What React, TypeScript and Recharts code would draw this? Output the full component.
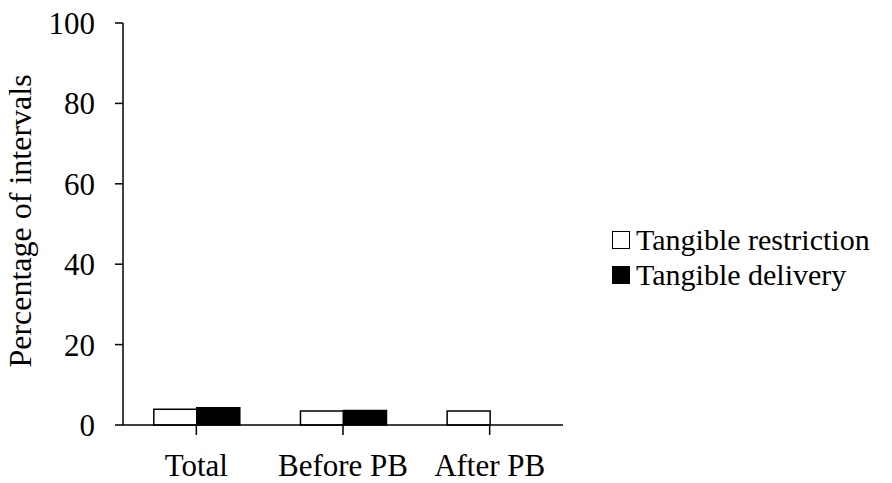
import React from 'react';
import { BarChart, Bar, XAxis, YAxis, Legend, Label } from 'recharts';

const categories = ['Total', 'Before PB', 'After PB'];
const restriction = [3.9, 3.5, 3.5];
const delivery = [4.3, 3.6, 0];
const yTicks = [0, 20, 40, 60, 80, 100];

const data = categories.map((name, i) => ({
  name,
  restriction: restriction[i],
  delivery: delivery[i],
}));

const FONT = "'Liberation Serif', Tinos, 'Times New Roman', 'DejaVu Serif', serif";

const legendItems = [
  { label: 'Tangible restriction', fill: '#ffffff' },
  { label: 'Tangible delivery', fill: '#000000' },
];

function LegendContent() {
  return (
    <div style={{ fontFamily: FONT, fontSize: 30, color: '#000', lineHeight: 1 }}>
      {legendItems.map((item) => (
        <div key={item.label} style={{ display: 'flex', alignItems: 'center', height: 35 }}>
          <span
            style={{
              display: 'inline-block',
              width: 16,
              height: 16,
              background: item.fill,
              border: '1.5px solid #000',
              marginRight: 6,
            }}
          />
          <span>{item.label}</span>
        </div>
      ))}
    </div>
  );
}

export default function App() {
  return (
    <div style={{ position: 'absolute', left: 0, top: 0, width: 892, height: 483, background: '#fff' }}>
      <BarChart
        width={892}
        height={483}
        data={data}
        margin={{ top: 23, right: 329, bottom: 28, left: 0 }}
        barCategoryGap="21%"
        barGap={0}
      >
        <XAxis
          dataKey="name"
          height={30}
          axisLine={{ stroke: '#000', strokeWidth: 1.5 }}
          tickLine={{ stroke: '#000', strokeWidth: 1.5 }}
          tickSize={10}
          tickMargin={19}
          tick={{ fill: '#000', fontSize: 31, fontFamily: FONT }}
          interval={0}
        />
        <YAxis
          width={123}
          domain={[0, 100]}
          ticks={yTicks}
          axisLine={{ stroke: '#000', strokeWidth: 1.5 }}
          tickLine={{ stroke: '#000', strokeWidth: 1.5 }}
          tickSize={8}
          tickMargin={20}
          tick={{ fill: '#000', fontSize: 31, fontFamily: FONT }}
        >
          <Label
            value="Percentage of intervals"
            angle={-90}
            position="insideLeft"
            offset={20}
            dy={-3}
            style={{ textAnchor: 'middle', fill: '#000', fontSize: 32, fontFamily: FONT }}
          />
        </YAxis>
        <Legend
          layout="horizontal"
          verticalAlign="middle"
          align="center"
          content={<LegendContent />}
          wrapperStyle={{ left: 612, top: 222, width: 280 }}
        />
        <Bar dataKey="restriction" fill="#ffffff" stroke="#000" strokeWidth={1.5} isAnimationActive={false} />
        <Bar dataKey="delivery" fill="#000000" stroke="#000" strokeWidth={1.5} isAnimationActive={false} />
      </BarChart>
    </div>
  );
}
